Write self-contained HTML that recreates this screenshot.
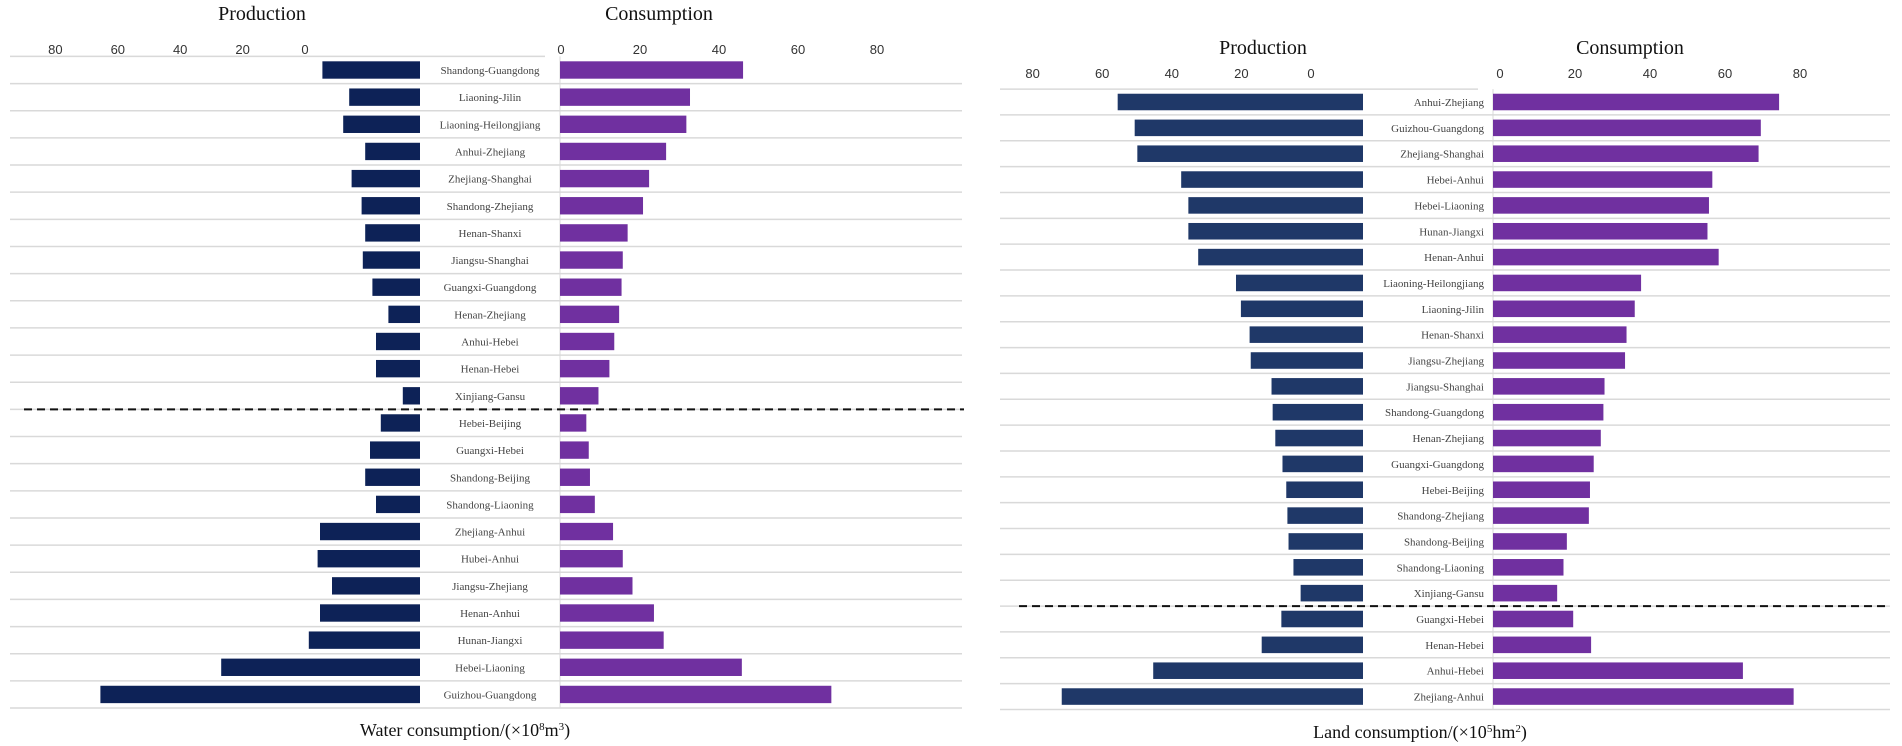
<!DOCTYPE html>
<html><head><meta charset="utf-8"><style>
html,body{margin:0;padding:0;background:#fff;}
svg{display:block;font-family:"Liberation Serif",serif;}
.tick{font-family:"Liberation Sans",sans-serif;font-size:13px;fill:#333;}
.lab{font-size:11px;fill:#444;}
.title{font-size:20px;fill:#111;}
</style></head><body>
<svg id="chart" width="1902" height="746" viewBox="0 0 1902 746" xmlns="http://www.w3.org/2000/svg"></svg>
<script>
// ---- Water chart data ----
const waterCats = ["Shandong-Guangdong","Liaoning-Jilin","Liaoning-Heilongjiang","Anhui-Zhejiang","Zhejiang-Shanghai","Shandong-Zhejiang","Henan-Shanxi","Jiangsu-Shanghai","Guangxi-Guangdong","Henan-Zhejiang","Anhui-Hebei","Henan-Hebei","Xinjiang-Gansu","Hebei-Beijing","Guangxi-Hebei","Shandong-Beijing","Shandong-Liaoning","Zhejiang-Anhui","Hubei-Anhui","Jiangsu-Zhejiang","Henan-Anhui","Hunan-Jiangxi","Hebei-Liaoning","Guizhou-Guangdong"];
const waterProd = [24.4,17.7,19.2,13.7,17.1,14.6,13.7,14.3,11.9,7.9,11.0,11.0,4.3,9.8,12.5,13.7,11.0,25.0,25.6,22.0,25.0,27.8,49.7,79.9];
const waterCons = [45.2,32.1,31.2,26.2,22.0,20.5,16.7,15.5,15.2,14.6,13.4,12.2,9.5,6.5,7.1,7.4,8.6,13.1,15.5,17.9,23.2,25.6,44.9,67.0];
const waterDashAfter = 13;
// ---- Land chart data ----
const landCats = ["Anhui-Zhejiang","Guizhou-Guangdong","Zhejiang-Shanghai","Hebei-Anhui","Hebei-Liaoning","Hunan-Jiangxi","Henan-Anhui","Liaoning-Heilongjiang","Liaoning-Jilin","Henan-Shanxi","Jiangsu-Zhejiang","Jiangsu-Shanghai","Shandong-Guangdong","Henan-Zhejiang","Guangxi-Guangdong","Hebei-Beijing","Shandong-Zhejiang","Shandong-Beijing","Shandong-Liaoning","Xinjiang-Gansu","Guangxi-Hebei","Henan-Hebei","Anhui-Hebei","Zhejiang-Anhui"];
const landProd = [64.9,60.4,59.7,48.1,46.2,46.2,43.6,33.6,32.3,30.0,29.7,24.2,23.9,23.2,21.3,20.3,20.0,19.7,18.4,16.5,21.6,26.8,55.5,79.7];
const landCons = [76.7,71.8,71.2,58.8,57.9,57.5,60.5,39.7,38.0,35.8,35.4,29.9,29.6,28.9,27.0,26.0,25.7,19.8,18.9,17.2,21.5,26.3,67.0,80.6];
const landDashAfter = 20;
const tickVals = [80,60,40,20,0];
const consTickVals = [0,20,40,60,80];

const svg = document.getElementById('chart');
const NS = 'http://www.w3.org/2000/svg';
function mk(tag, attrs, text){
  const e = document.createElementNS(NS, tag);
  for (const k in attrs) e.setAttribute(k, attrs[k]);
  if (text !== undefined) e.textContent = text;
  svg.appendChild(e);
  return e;
}

function panel(cfg){
  const n = cfg.cats.length;
  const yC = i => cfg.y0 + i * cfg.pitch;
  const xP = v => cfg.prodZero - v * cfg.prodScale;
  const xC = v => cfg.consZero + v * cfg.consScale;
  const xPT = v => cfg.pTickZero - v * cfg.pTickScale;
  const xCT = v => cfg.cTickZero + v * cfg.cTickScale;
  let t = mk('text', {x: cfg.prodTitleX, y: cfg.titleY, 'text-anchor':'middle', class:'title'}, 'Production');
  
  
  t = mk('text', {x: cfg.consTitleX, y: cfg.titleY, 'text-anchor':'middle', class:'title'}, 'Consumption');
  
  
  tickVals.forEach(v => {
    const e = mk('text', {x: xPT(v), y: cfg.tickY, 'text-anchor':'middle', class:'tick'}, String(v));
    
    
  });
  consTickVals.forEach(v => {
    const e = mk('text', {x: xCT(v), y: cfg.tickY, 'text-anchor':'middle', class:'tick'}, String(v));
    
    
  });
  for (let i = 0; i <= n; i++) {
    const y = yC(i) - cfg.pitch / 2;
    const x2 = i === 0 ? cfg.consZero - 15 : cfg.gridR;
    const g = mk('line', {x1: cfg.gridL, x2: x2, y1: y, y2: y, stroke:'#d9d9d9', 'stroke-width':1.5});
    
    
  }
  const ax = mk('line', {x1: cfg.consZero, x2: cfg.consZero, y1: yC(0) - cfg.pitch/2, y2: yC(n-1) + cfg.pitch/2, stroke:'#d9d9d9', 'stroke-width':1});
  
  
  const bh = cfg.pitch * 0.64;
  cfg.cats.forEach((c, i) => {
    const y = yC(i);
    const pv = cfg.prod[i], cv = cfg.cons[i];
    const b1 = mk('rect', {x: xP(pv), y: y - bh/2, width: xP(0) - xP(pv), height: bh, fill: cfg.prodColor});
    
    
    const b2 = mk('rect', {x: xC(0), y: y - bh/2, width: xC(cv) - xC(0), height: bh, fill: '#7030a0'});
    
    
    const l = mk('text', {x: cfg.labX, y: y + 4, 'text-anchor': cfg.labAnchor, class:'lab'}, c);
    
    
  });
  const dy = yC(cfg.dashAfter) - cfg.pitch / 2;
  const d = mk('line', {x1: cfg.dashL, x2: cfg.dashR, y1: dy, y2: dy, stroke:'#111', 'stroke-width':2, 'stroke-dasharray':'8,5'});
  
  
  const at = mk('text', {x: cfg.axTitleX, y: cfg.axTitleY, 'text-anchor':'middle', class:'title'});
  
  
  at.style.fontSize = '18px';
  at.appendChild(document.createTextNode(cfg.axTitle[0]));
  const sup = document.createElementNS(NS, 'tspan');
  sup.setAttribute('baseline-shift', 'super'); sup.setAttribute('font-size', '11');
  sup.textContent = cfg.axTitle[1];
  at.appendChild(sup);
  at.appendChild(document.createTextNode(cfg.axTitle[2]));
  const sup2 = document.createElementNS(NS, 'tspan');
  sup2.setAttribute('baseline-shift', 'super'); sup2.setAttribute('font-size', '11');
  sup2.textContent = cfg.axTitle[3];
  at.appendChild(sup2);
  at.appendChild(document.createTextNode(')'));
}

panel({id:'water', cats: waterCats, prod: waterProd, cons: waterCons, dashAfter: waterDashAfter,
  y0: 70, pitch: 27.15, prodZero: 420, prodScale: 4.0, consZero: 560, consScale: 4.05,
  pTickZero: 305, pTickScale: 3.12, cTickZero: 561, cTickScale: 3.95,
  tickY: 54, titleY: 20, prodTitleX: 262, consTitleX: 659,
  gridL: 10, gridR: 962, labX: 490, labAnchor: 'middle', prodColor: '#0d2257',
  dashL: 24, dashR: 964, axTitleX: 465, axTitleY: 736,
  axTitle: ['Water consumption/(\u00d710','8','m','3']});

panel({id:'land', cats: landCats, prod: landProd, cons: landCons, dashAfter: landDashAfter,
  y0: 102, pitch: 25.85, prodZero: 1363, prodScale: 3.78, consZero: 1493, consScale: 3.73,
  pTickZero: 1311, pTickScale: 3.48, cTickZero: 1500, cTickScale: 3.75,
  tickY: 78, titleY: 54, prodTitleX: 1263, consTitleX: 1630,
  gridL: 1000, gridR: 1890, labX: 1484, labAnchor: 'end', prodColor: '#1f3868',
  dashL: 1019, dashR: 1885, axTitleX: 1420, axTitleY: 738,
  axTitle: ['Land consumption/(\u00d710','5','hm','2']});
</script>
</body></html>
